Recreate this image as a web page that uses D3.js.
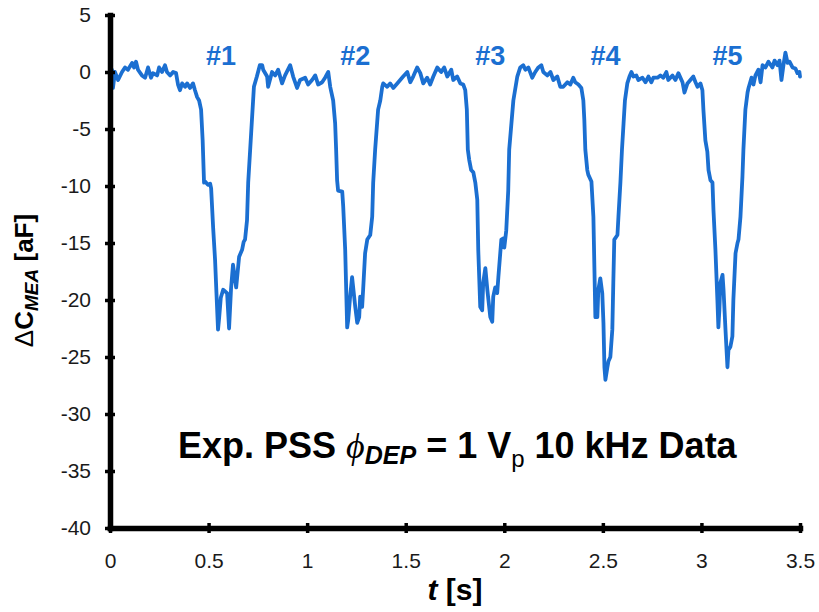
<!DOCTYPE html>
<html>
<head>
<meta charset="utf-8">
<script src="https://cdn.jsdelivr.net/npm/d3@7"></script>
<style>
  html, body { margin: 0; padding: 0; background: #fff; }
  svg { display: block; font-family: "Liberation Sans", Arial, sans-serif; }
</style>
</head>
<body>
<svg id="chart" width="819" height="612"></svg>
<script>
// Measured capacitance change over time, five particle passages
const timeS = [
  0.000, 0.010, 0.015, 0.025, 0.041, 0.061, 0.076, 0.091, 0.112, 0.122, 0.132, 0.142, 0.162, 0.178, 0.193,
  0.208, 0.218, 0.239, 0.249, 0.264, 0.279, 0.289, 0.305, 0.320, 0.335, 0.345, 0.355, 0.366, 0.381, 0.391,
  0.406, 0.421, 0.431, 0.442, 0.452, 0.462, 0.470, 0.477, 0.482, 0.497, 0.508, 0.513, 0.523, 0.533, 0.540,
  0.548, 0.554, 0.562, 0.574, 0.594, 0.604, 0.614, 0.624, 0.640, 0.655, 0.670, 0.678, 0.685, 0.695, 0.701,
  0.711, 0.730, 0.745, 0.760, 0.772, 0.777, 0.797, 0.802, 0.822, 0.838, 0.853, 0.873, 0.888, 0.914, 0.929,
  0.949, 0.964, 0.990, 1.005, 1.025, 1.041, 1.056, 1.076, 1.091, 1.107, 1.117, 1.132, 1.142, 1.147, 1.152,
  1.157, 1.178, 1.183, 1.193, 1.203, 1.208, 1.218, 1.228, 1.244, 1.254, 1.264, 1.269, 1.279, 1.284, 1.294,
  1.305, 1.320, 1.330, 1.335, 1.345, 1.360, 1.371, 1.381, 1.386, 1.406, 1.421, 1.437, 1.457, 1.472, 1.487,
  1.508, 1.523, 1.538, 1.558, 1.574, 1.589, 1.609, 1.624, 1.640, 1.660, 1.680, 1.695, 1.711, 1.731, 1.741,
  1.761, 1.777, 1.792, 1.802, 1.810, 1.815, 1.822, 1.832, 1.843, 1.853, 1.863, 1.868, 1.878, 1.888, 1.893,
  1.904, 1.914, 1.929, 1.939, 1.944, 1.954, 1.964, 1.970, 1.985, 1.995, 2.000, 2.010, 2.020, 2.025, 2.046,
  2.066, 2.081, 2.096, 2.107, 2.122, 2.142, 2.157, 2.173, 2.188, 2.198, 2.218, 2.234, 2.249, 2.269, 2.284,
  2.299, 2.320, 2.335, 2.350, 2.360, 2.376, 2.391, 2.401, 2.406, 2.411, 2.421, 2.426, 2.442, 2.452, 2.457,
  2.462, 2.472, 2.477, 2.487, 2.497, 2.503, 2.508, 2.513, 2.523, 2.528, 2.538, 2.548, 2.553, 2.558, 2.574,
  2.579, 2.589, 2.597, 2.605, 2.612, 2.624, 2.635, 2.645, 2.655, 2.670, 2.680, 2.701, 2.716, 2.731, 2.746,
  2.756, 2.777, 2.792, 2.807, 2.822, 2.832, 2.853, 2.868, 2.883, 2.904, 2.914, 2.929, 2.944, 2.959, 2.970,
  2.980, 2.995, 3.005, 3.010, 3.020, 3.030, 3.036, 3.046, 3.056, 3.061, 3.071, 3.081, 3.086, 3.091, 3.096,
  3.107, 3.112, 3.122, 3.132, 3.137, 3.147, 3.157, 3.162, 3.173, 3.183, 3.188, 3.198, 3.208, 3.213, 3.223,
  3.234, 3.239, 3.254, 3.264, 3.274, 3.289, 3.300, 3.310, 3.325, 3.340, 3.360, 3.371, 3.386, 3.396, 3.406,
  3.416, 3.426, 3.437, 3.447, 3.462, 3.477, 3.487, 3.497, 3.500
];
const deltaC = [
  -0.5, 0.2, -1.4, 0.0, -0.7, 0.0, 0.4, 0.2, 0.8, 0.4, 0.9, 0.2, -0.3, -0.5, 0.4,
  -0.5, -0.1, -0.3, 0.4, 0.0, 0.6, 0.0, -0.3, 0.0, -0.1, -1.1, -1.6, -1.0, -1.3, -1.0,
  -1.4, -1.0, -1.6, -2.2, -2.5, -3.3, -6.0, -9.7, -9.6, -9.9, -9.8, -10.2, -13.6, -16.5, -19.4,
  -22.6, -21.5, -19.8, -19.1, -19.4, -22.5, -19.0, -16.9, -18.9, -16.2, -15.6, -14.9, -14.7, -13.0, -9.7,
  -6.8, -1.3, -0.4, 0.6, 0.6, 0.2, -0.4, -1.3, 0.0, -0.3, 0.2, -1.0, -0.3, 0.6, -0.4,
  -1.4, -0.7, -0.5, -1.1, -0.7, -0.3, -1.1, -0.9, -0.5, 0.0, -1.3, -2.5, -4.5, -6.8, -9.5,
  -10.4, -10.5, -11.8, -15.6, -22.4, -21.8, -19.7, -18.0, -20.6, -22.0, -21.5, -19.7, -20.6, -19.1, -15.9,
  -14.7, -14.3, -12.7, -9.7, -6.8, -3.3, -2.5, -1.3, -1.0, -1.3, -1.0, -1.4, -1.0, -0.7, -0.4,
  0.0, -0.9, -0.4, 0.4, -0.1, -1.0, -0.5, -1.1, -0.4, 0.4, 0.0, 0.4, -0.4, 0.2, -0.7,
  -0.4, -1.0, -1.1, -1.6, -3.3, -6.8, -7.7, -8.6, -8.8, -9.7, -11.2, -15.6, -20.6, -20.9, -18.5,
  -17.2, -19.1, -21.5, -21.9, -19.7, -18.9, -19.4, -18.0, -14.7, -14.6, -15.4, -13.9, -10.4, -6.8, -2.5,
  -0.4, 0.4, 0.6, 0.2, 0.4, -0.5, 0.0, 0.4, 0.6, 0.0, -0.3, 0.0, -0.7, -0.4, -1.3,
  -1.3, -0.9, -1.1, -0.5, -0.9, -1.1, -1.4, -2.5, -4.2, -6.8, -8.6, -9.0, -9.6, -12.7, -17.1,
  -21.5, -21.5, -19.1, -18.1, -19.4, -22.0, -25.9, -27.0, -25.9, -25.4, -25.0, -22.6, -18.5, -14.7, -14.3,
  -12.7, -9.7, -6.8, -4.5, -2.5, -1.0, -0.4, 0.0, -0.4, -0.3, -0.7, -0.5, -0.9, -0.4, -0.9,
  -0.5, -0.5, -0.3, -0.5, 0.0, -0.7, -0.3, -0.7, -0.1, -0.9, -1.8, -1.0, -0.7, -0.4, -0.9,
  -1.3, -1.0, -1.6, -3.3, -6.0, -7.0, -8.6, -9.5, -9.7, -12.1, -15.6, -20.0, -22.4, -20.9, -18.5,
  -17.8, -19.1, -22.6, -25.9, -24.4, -24.1, -23.2, -20.0, -15.9, -15.0, -14.7, -12.7, -9.2, -6.8, -3.3,
  -1.8, -1.4, -0.5, -1.1, -0.3, 0.2, -0.9, 0.6, 0.4, 0.9, 0.4, 1.0, 0.6, 1.0, -0.7,
  0.6, 1.7, 0.8, 0.9, 0.4, 0.3, -0.1, 0.0, -0.4
];

// Event labels placed over each capacitance dip
const eventLabels = ["#1", "#2", "#3", "#4", "#5"];
const eventTimes = [0.563, 1.244, 1.929, 2.513, 3.132];

const xTickValues = [0, 0.5, 1, 1.5, 2, 2.5, 3, 3.5];
const yTickValues = [5, 0, -5, -10, -15, -20, -25, -30, -35, -40];

const svg = d3.select("#chart");
const plot = { left: 110, right: 800, top: 15, bottom: 528 };
const blue = "#1b6fd1";

const x = d3.scaleLinear().domain([0, 3.5]).range([plot.left, plot.right]);
const y = d3.scaleLinear().domain([-40, 5]).range([plot.bottom, plot.top]);

// Trace
const points = timeS.map((t, i) => [t, deltaC[i]]);
svg.append("path")
  .datum(points)
  .attr("fill", "none")
  .attr("stroke", blue)
  .attr("stroke-width", 3.8)
  .attr("stroke-linejoin", "round")
  .attr("stroke-linecap", "round")
  .attr("d", d3.line().x(d => x(d[0])).y(d => y(d[1])));

// Axes with ticks crossing the axis line
const xAxis = d3.axisBottom(x).tickValues(xTickValues).tickFormat(d => String(d))
  .tickSizeInner(5).tickSizeOuter(0).tickPadding(20);
const gx = svg.append("g").attr("transform", `translate(0,${plot.bottom})`).call(xAxis);

const yAxis = d3.axisLeft(y).tickValues(yTickValues).tickFormat(d => String(d))
  .tickSizeInner(5).tickSizeOuter(0).tickPadding(14);
const gy = svg.append("g").attr("transform", `translate(${plot.left},0)`).call(yAxis);

gx.select(".domain").attr("stroke", "#000").attr("stroke-width", 5.5).attr("stroke-linecap", "square");
gy.select(".domain").attr("stroke", "#000").attr("stroke-width", 5.5).attr("stroke-linecap", "square");
gx.selectAll(".tick line").attr("y1", -5).attr("stroke", "#000").attr("stroke-width", 3.5);
gy.selectAll(".tick line").attr("x1", 5).attr("stroke", "#000").attr("stroke-width", 3.5);
[gx, gy].forEach(g => g.selectAll(".tick text")
  .attr("font-family", "Liberation Sans, Arial, sans-serif")
  .attr("font-size", 21)
  .attr("fill", "#1a1a1a"));

// Axis titles
const xTitle = svg.append("text")
  .attr("x", (plot.left + plot.right) / 2).attr("y", 600)
  .attr("text-anchor", "middle")
  .attr("font-size", 30).attr("font-weight", "bold").attr("fill", "#000");
xTitle.append("tspan").attr("font-style", "italic").text("t");
xTitle.append("tspan").text(" [s]");

const yTitle = svg.append("text")
  .attr("transform", `translate(33,${(plot.top + plot.bottom) / 2 + 9}) rotate(-90)`)
  .attr("text-anchor", "middle")
  .attr("font-size", 26).attr("font-weight", "bold").attr("fill", "#000");
yTitle.append("tspan").attr("font-weight", "normal").text("Δ");
yTitle.append("tspan").text("C");
yTitle.append("tspan").attr("font-style", "italic").attr("font-size", 19).attr("dy", 5).text("MEA");
yTitle.append("tspan").attr("dy", -5).text(" [aF]");

// Event labels
svg.selectAll(".event")
  .data(eventLabels)
  .join("text")
  .attr("class", "event")
  .attr("x", (d, i) => x(eventTimes[i]))
  .attr("y", 65)
  .attr("text-anchor", "middle")
  .attr("font-size", 27).attr("font-weight", "bold")
  .attr("fill", blue)
  .text(d => d);

// Measurement condition annotation
const note = svg.append("text")
  .attr("x", 178).attr("y", 458)
  .attr("font-size", 36).attr("font-weight", "bold").attr("fill", "#000");
note.append("tspan").text("Exp. PSS ");
note.append("tspan").attr("font-family", "Liberation Serif, serif").attr("font-style", "italic")
  .attr("font-weight", "normal").attr("font-size", 36).text("ϕ");
note.append("tspan").attr("font-style", "italic").attr("font-size", 25).attr("dy", 6).text("DEP");
note.append("tspan").attr("dy", -6).text(" = 1 V");
note.append("tspan").attr("font-weight", "normal").attr("font-size", 24).attr("dy", 9).text("p");
note.append("tspan").attr("dy", -9).text(" 10 kHz Data");
</script>
</body>
</html>
